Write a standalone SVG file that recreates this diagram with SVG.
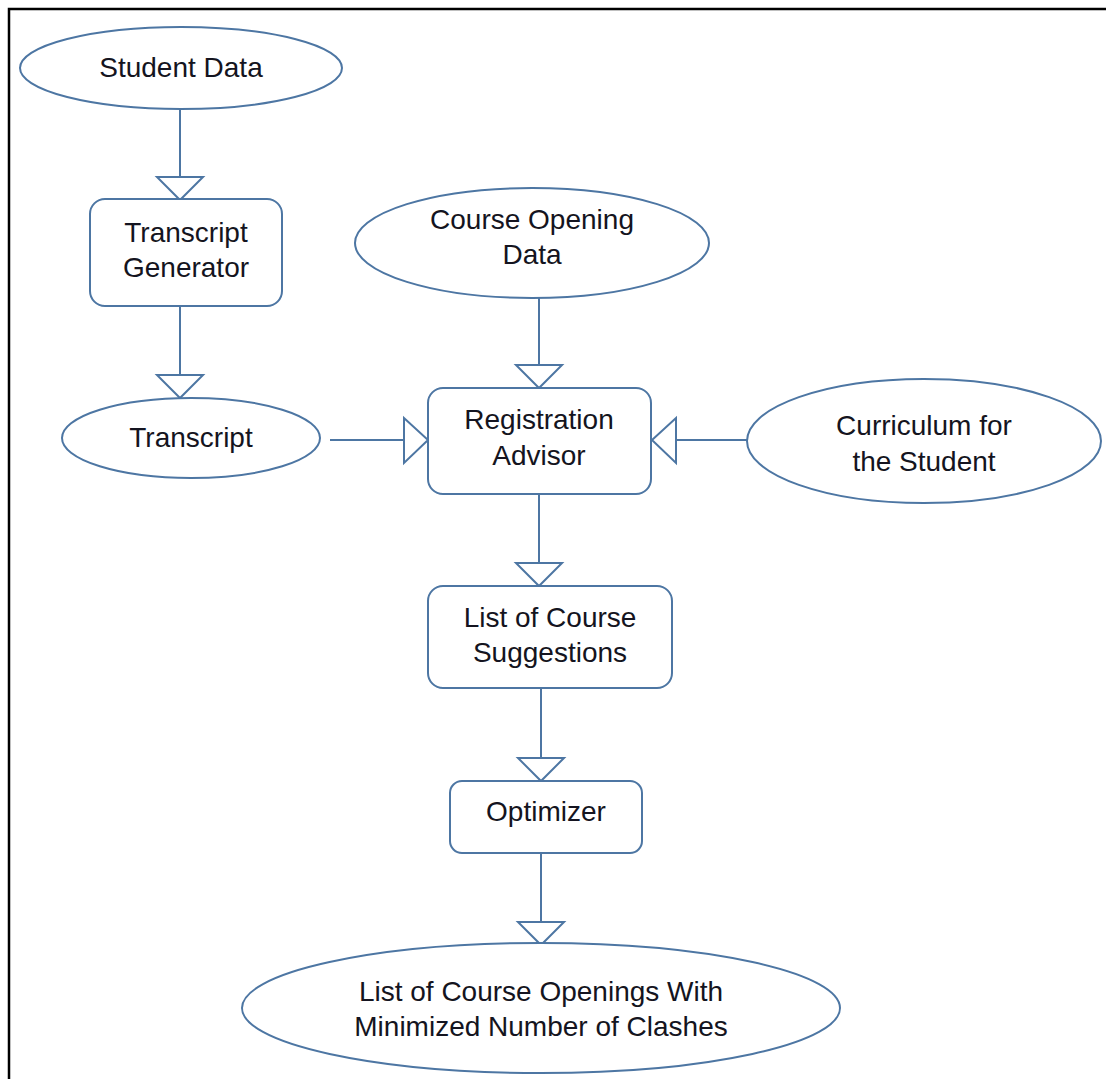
<svg xmlns="http://www.w3.org/2000/svg" width="1106" height="1079" viewBox="0 0 1106 1079">
<style>
.n{fill:#fff;stroke:#4d76a3;stroke-width:2}
.c{fill:none;stroke:#4d76a3;stroke-width:2}
.h{fill:#fff;stroke:#4d76a3;stroke-width:2;stroke-linejoin:miter}
text{font-family:"Liberation Sans",Arial,sans-serif;font-size:28px;fill:#141420;text-anchor:middle}
</style>
<rect width="1106" height="1079" fill="#fff"/>
<path d="M9 1079 V9 H1106" fill="none" stroke="#000" stroke-width="2.5"/>
<g id="connectors">
<line class="c" x1="180" y1="110" x2="180" y2="177"/>
<polygon class="h" points="157,177 203,177 180,200"/>
<line class="c" x1="180" y1="306" x2="180" y2="375"/>
<polygon class="h" points="157,375 203,375 180,398"/>
<line class="c" x1="330" y1="440" x2="404" y2="440"/>
<polygon class="h" points="404,418 404,463 428,440"/>
<line class="c" x1="539" y1="298" x2="539" y2="365"/>
<polygon class="h" points="516,365 562,365 539,388"/>
<line class="c" x1="747" y1="440" x2="676" y2="440"/>
<polygon class="h" points="676,418 676,463 652,440"/>
<line class="c" x1="539" y1="494" x2="539" y2="563"/>
<polygon class="h" points="516,563 562,563 539,586"/>
<line class="c" x1="541" y1="688" x2="541" y2="758"/>
<polygon class="h" points="518,758 564,758 541,781"/>
<line class="c" x1="541" y1="853" x2="541" y2="922"/>
<polygon class="h" points="518,922 564,922 541,945"/>
</g>
<g id="student-data">
<ellipse class="n" cx="181" cy="68" rx="161" ry="41"/>
<text x="181" y="77">Student Data</text>
</g>
<g id="transcript-generator">
<rect class="n" x="90" y="199" width="192" height="107" rx="15"/>
<text x="186" y="242">Transcript</text>
<text x="186" y="277">Generator</text>
</g>
<g id="transcript">
<ellipse class="n" cx="191" cy="438" rx="129" ry="40"/>
<text x="191" y="447">Transcript</text>
</g>
<g id="course-opening-data">
<ellipse class="n" cx="532" cy="243" rx="177" ry="55"/>
<text x="532" y="229">Course Opening</text>
<text x="532" y="264">Data</text>
</g>
<g id="registration-advisor">
<rect class="n" x="428" y="388" width="223" height="106" rx="15"/>
<text x="539" y="429">Registration</text>
<text x="539" y="465">Advisor</text>
</g>
<g id="curriculum">
<ellipse class="n" cx="924" cy="441" rx="177" ry="62"/>
<text x="924" y="435">Curriculum for</text>
<text x="924" y="471">the Student</text>
</g>
<g id="course-suggestions">
<rect class="n" x="428" y="586" width="244" height="102" rx="15"/>
<text x="550" y="627">List of Course</text>
<text x="550" y="662">Suggestions</text>
</g>
<g id="optimizer">
<rect class="n" x="450" y="781" width="192" height="72" rx="12"/>
<text x="546" y="821">Optimizer</text>
</g>
<g id="course-openings-list">
<ellipse class="n" cx="541" cy="1008" rx="299" ry="65"/>
<text x="541" y="1001">List of Course Openings With</text>
<text x="541" y="1036">Minimized Number of Clashes</text>
</g>
</svg>
